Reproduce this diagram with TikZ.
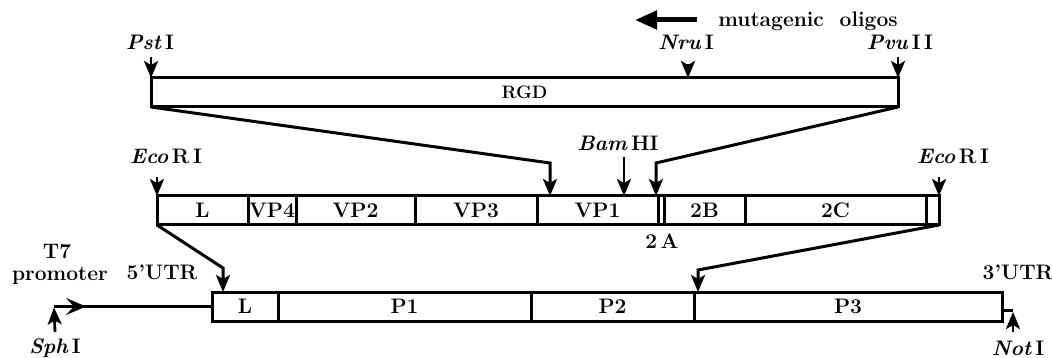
\documentclass[tikz,border=0pt]{standalone}
\usetikzlibrary{arrows.meta}
\begin{document}
\begin{tikzpicture}[x=1pt,y=-1pt,
  lbl/.style={font=\fontsize{21}{23}\selectfont\bfseries, inner sep=0pt},
  seg/.style={draw, line width=3pt, minimum height=29pt, inner sep=0pt, outer sep=0pt, anchor=west, font=\fontsize{21}{23}\selectfont\bfseries},
  tip/.style={-{Stealth[length=17pt,width=14pt,inset=4pt]}},
  cut/.style={line width=2.8pt, tip},
  conn/.style={line width=3pt, line join=miter}]
\useasboundingbox (0,0) rectangle (1052,358);

% top: RGD fragment
\node[seg, minimum width=747pt, font=\fontsize{18}{20}\selectfont\bfseries] (rgd) at (151,92.5) {RGD};

% middle: cDNA
\node[seg, minimum width=91pt] (L1) at (157,210.5) {L};
\node[seg, minimum width=48pt] (vp4) at (L1.east) {VP4};
\node[seg, minimum width=119pt] (vp2) at (vp4.east) {VP2};
\node[seg, minimum width=122pt] (vp3) at (vp2.east) {VP3};
\node[seg, minimum width=121pt] (vp1) at (vp3.east) {VP1};
\node[seg, minimum width=6pt] (p2a) at (vp1.east) {};
\node[seg, minimum width=81pt] (p2b) at (p2a.east) {2B};
\node[seg, minimum width=181pt] (p2c) at (p2b.east) {2C};
\node[seg, minimum width=13pt] (tail) at (p2c.east) {};

% bottom: construct
\node[seg, minimum width=66pt] (L2) at (212,306.5) {L};
\node[seg, minimum width=253pt] (P1) at (L2.east) {P1};
\node[seg, minimum width=163pt] (P2) at (P1.east) {P2};
\node[seg, minimum width=308pt] (P3) at (P2.east) {P3};

% labels
\node[lbl] (pst) at (150,42) {\textit{Pst}\,I};
\node[lbl] (nru) at (686,42) {\textit{Nru}\,I};
\node[lbl] (pvu) at (900,42) {\textit{Pvu}\,I\,I};
\node[lbl] (muta) at (808,21) {mutagenic\ \ oligos};
\node[lbl] (bam) at (618,143) {\textit{Bam}\,HI};
\node[lbl] (ecoL) at (166,156) {\textit{Eco}\,R\,I};
\node[lbl] (ecoR) at (953,156) {\textit{Eco}\,R\,I};
\node[lbl] (l2a) at (662,241) {2\,A};
\node[lbl] (t7) at (57,252) {T7};
\node[lbl] (prom) at (60,276) {promoter};
\node[lbl] (utr5) at (162,272) {5'UTR};
\node[lbl] (utr3) at (1018,272) {3'UTR};
\node[lbl] (sph) at (55,348) {\textit{Sph}\,I};
\node[lbl] (not) at (1018,348) {\textit{Not}\,I};

% mutagenic oligos arrow
\coordinate (ma) at (697,20);
\coordinate (mb) at (635,20);
\draw[line width=5pt, -{Triangle[length=22pt,width=18pt]}] (ma) -- (mb);

% restriction sites on RGD fragment
\coordinate (nruc) at (688,78);
\draw[cut] ([yshift=21pt]rgd.north west) -- (rgd.north west);
\draw[cut] ([yshift=14pt]nruc) -- (nruc);
\draw[cut] ([yshift=21pt]rgd.north east) -- (rgd.north east);

% RGD fragment into cDNA
\coordinate (k1) at (550,163);
\coordinate (k2) at (656,163);
\draw[conn, tip] (rgd.south west) -- (k1) -- (k1 |- vp1.north);
\draw[conn, tip] (rgd.south east) -- (k2) -- (k2 |- vp1.north);

% sites on cDNA
\coordinate (bamc) at (624,157);
\draw[cut] (bamc) -- (bamc |- vp1.north);
\draw[cut] ([yshift=19pt]L1.north west) -- (L1.north west);
\draw[cut] ([yshift=19pt]tail.north east) -- (tail.north east);

% cDNA into construct
\coordinate (k3) at (223,268);
\coordinate (k4) at (698,270);
\draw[conn, tip] (L1.south west) -- (k3) -- (k3 |- L2.north);
\draw[conn, tip] (tail.south east) -- (k4) -- (k4 |- P3.north);

% T7 promoter and 5' line
\coordinate (pr) at (54,306.5);
\coordinate (prh) at (86,306.5);
\coordinate (sphc) at (55,332);
\draw[conn] (pr) -- (L2.west);
\draw[line width=3pt, -{Stealth[length=20pt,width=17pt,inset=8pt]}] (pr) -- (prh);
\draw[cut] (sphc) -- ([yshift=-1pt]pr);

% 3' end and NotI
\coordinate (notc) at (1013,310);
\coordinate (notb) at (1013,332);
\draw[conn] (P3.east |- notc) -- (notc);
\draw[cut] (notb) -- ([yshift=-2pt]notc);
\end{tikzpicture}
\end{document}
